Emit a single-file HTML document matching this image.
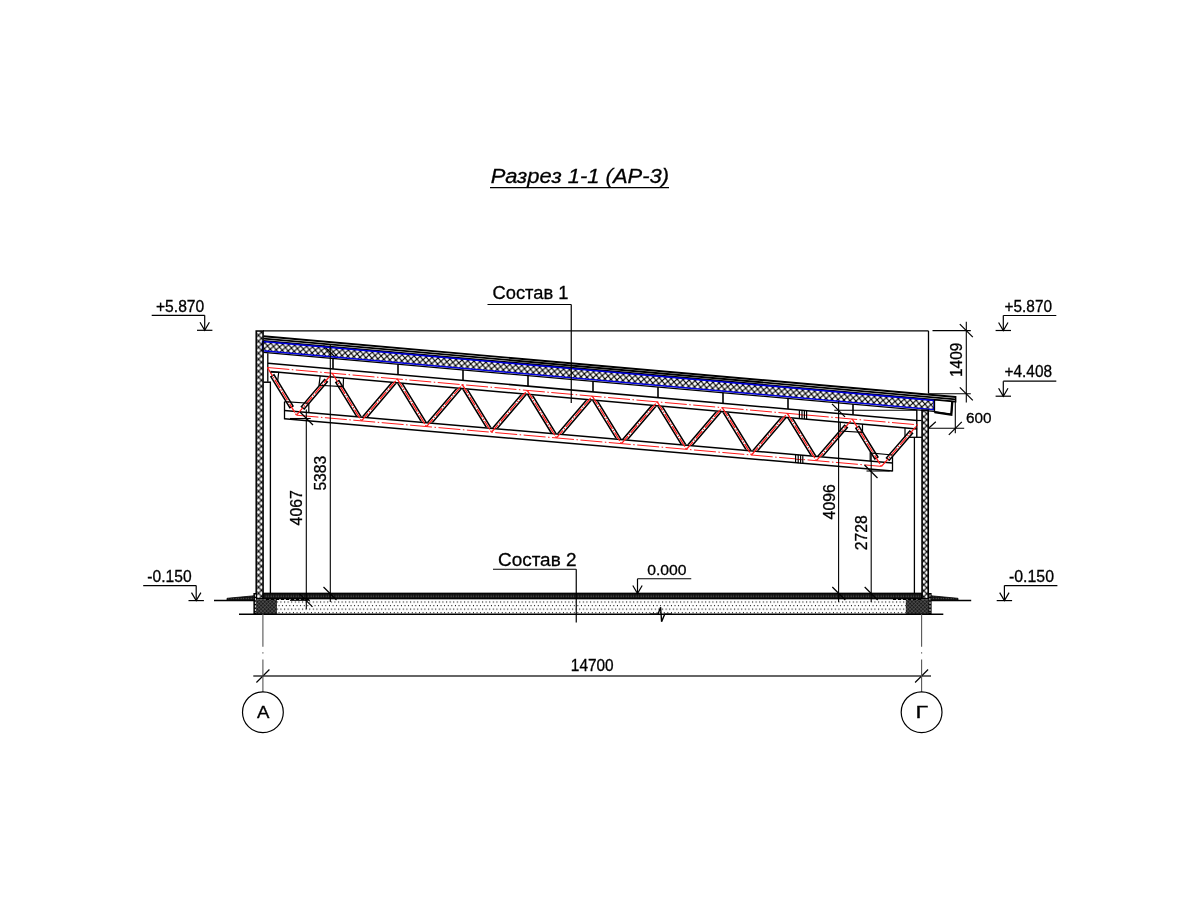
<!DOCTYPE html>
<html><head><meta charset="utf-8"><style>
html,body{margin:0;padding:0;background:#fff;}
svg{display:block;will-change:transform;}
text{font-family:"Liberation Sans", sans-serif;fill:#000;stroke:#000;stroke-width:0.3px;}
</style></head><body>
<svg width="1200" height="900" viewBox="0 0 1200 900">
<rect width="1200" height="900" fill="#fff"/>
<defs>
<pattern id="xh" patternUnits="userSpaceOnUse" width="6" height="6" x="255.5" y="332.3"><path d="M-1 -1 L7 7 M7 -1 L-1 7" stroke="#000" stroke-width="1.2"/></pattern>
<pattern id="xh2" patternUnits="userSpaceOnUse" width="6" height="6" x="920.8" y="407.7"><path d="M-1 -1 L7 7 M7 -1 L-1 7" stroke="#000" stroke-width="1.2"/></pattern>
<pattern id="xhr" patternUnits="userSpaceOnUse" width="6" height="6" patternTransform="rotate(5.06)"><path d="M-1 -1 L7 7 M7 -1 L-1 7" stroke="#000" stroke-width="1.15"/></pattern>
<pattern id="dots" patternUnits="userSpaceOnUse" width="3.6" height="7.1" x="2.3" y="600.6"><rect x="0.85" y="0.85" width="1.15" height="1.15" fill="#111"/><rect x="2.65" y="4.4" width="1.15" height="1.15" fill="#111"/></pattern>
<pattern id="dk" patternUnits="userSpaceOnUse" width="2.5" height="2.5"><rect width="2.5" height="2.5" fill="#111"/><rect x="0.6" y="0.6" width="1" height="1" fill="#777"/></pattern>
<pattern id="fd" patternUnits="userSpaceOnUse" width="2.6" height="2.6" patternTransform="rotate(45)"><rect width="2.6" height="2.6" fill="#1e1e1e"/><rect width="0.55" height="2.6" fill="#5a5a5a"/><rect width="2.6" height="0.55" fill="#5a5a5a"/></pattern>
</defs>
<line x1="323.5" y1="345.5" x2="336.5" y2="358.5" stroke="#000" stroke-width="1.2" />
<path d="M263.5 336.24 L955.7 397.02" fill="none" stroke="#000" stroke-width="1.9" />
<path d="M263.5 338.54 L955.7 399.32" fill="none" stroke="#000" stroke-width="1.8" />
<path d="M263.5 340.84 L955.7 401.62" fill="none" stroke="#000" stroke-width="1.9" />
<path d="M955.7 396.02 L955.7 402.42" fill="none" stroke="#000" stroke-width="1.4" />
<path d="M263.5 341.54 L934 400.41 L934 409.71 L263.5 350.84 Z" fill="url(#xhr)" stroke="none" stroke-width="1.2" />
<path d="M262.5 341.46 L934 400.41 L934 409.71 L262.5 350.76 Z" fill="none" stroke="#0000e0" stroke-width="1.5" />
<line x1="263.5" y1="352.44" x2="934" y2="411.31" stroke="#000" stroke-width="1.2" />
<path d="M934.5 399.96 L952.5 401.54 L951.3 414.3 L934.5 412 Z" fill="#fff" stroke="#000" stroke-width="1.3" />
<path d="M952.3 401.24 L951.3 414.6 L934.5 412.2" fill="none" stroke="#000" stroke-width="2.3" />
<rect x="256.2" y="331" width="6.9" height="267.7" fill="url(#xh)" stroke="#000" stroke-width="1.5"/>
<rect x="922.05" y="410.2" width="6.2" height="188.5" fill="url(#xh2)" stroke="#000" stroke-width="1.6"/>
<line x1="267.8" y1="353.22" x2="267.8" y2="381.8" stroke="#000" stroke-width="1.3" />
<line x1="263.5" y1="382.2" x2="271" y2="382.2" stroke="#000" stroke-width="1.5" />
<line x1="270.4" y1="382" x2="270.4" y2="593" stroke="#000" stroke-width="1.3" />
<line x1="916.8" y1="410" x2="916.8" y2="437.3" stroke="#000" stroke-width="1.4" />
<line x1="916.8" y1="420.5" x2="921.5" y2="420.5" stroke="#000" stroke-width="1.2" />
<line x1="905" y1="437.3" x2="922" y2="437.3" stroke="#000" stroke-width="1.3" />
<line x1="914.4" y1="437.3" x2="914.4" y2="593" stroke="#000" stroke-width="1.3" />
<line x1="268" y1="363.2" x2="917.2" y2="420.48" stroke="#000" stroke-width="1.5" />
<line x1="270.4" y1="371.54" x2="917.2" y2="428.92" stroke="#000" stroke-width="1.5" />
<line x1="284.5" y1="410.42" x2="892.5" y2="463.08" stroke="#000" stroke-width="1.5" />
<line x1="284.5" y1="418.83" x2="892.5" y2="470.91" stroke="#000" stroke-width="1.5" />
<line x1="284.5" y1="401.7" x2="284.5" y2="419.33" stroke="#000" stroke-width="1.3" />
<line x1="892.5" y1="455" x2="892.5" y2="471.41" stroke="#000" stroke-width="1.3" />
<line x1="267.4" y1="367.5" x2="917.5" y2="424.8" stroke="#ff1a1a" stroke-width="1.0" stroke-dasharray="22 2.5 1.5 2.5"/>
<line x1="296.5" y1="415.2" x2="881.5" y2="466.39" stroke="#ff1a1a" stroke-width="1.0" stroke-dasharray="22 2.5 1.5 2.5"/>
<clipPath id="tc"><path d="M260 371.21 L930 430.66 L930 465.73 L260 407.7 Z"/></clipPath>
<g clip-path="url(#tc)"><path d="M269.87 376.54 L289.59 408.87 L294.03 406.16 L274.31 373.83 Z M304.32 410.04 L328.44 381.76 L324.48 378.38 L300.36 406.66 Z M334.78 382.25 L362.42 427.36 L366.85 424.65 L339.22 379.54 Z M359.58 427.14 L403.17 376.07 L399.22 372.7 L355.63 423.76 Z M391.95 375.19 L427.42 433.05 L431.85 430.33 L396.38 372.48 Z M424.58 432.83 L468.17 381.81 L464.22 378.43 L420.63 429.45 Z M456.95 380.92 L492.42 438.74 L496.85 436.02 L461.38 378.2 Z M489.58 438.51 L533.18 387.54 L529.22 384.16 L485.62 435.13 Z M521.94 386.66 L557.42 444.42 L561.86 441.7 L526.38 383.93 Z M554.57 444.2 L598.18 393.27 L594.23 389.89 L550.62 440.82 Z M586.94 392.39 L622.43 450.11 L626.86 447.39 L591.37 389.66 Z M619.57 449.89 L663.18 399 L659.23 395.62 L615.62 446.5 Z M651.94 398.12 L687.43 455.8 L691.86 453.07 L656.37 395.39 Z M684.57 455.57 L728.18 404.73 L724.23 401.35 L680.62 452.19 Z M716.94 403.85 L752.43 461.48 L756.86 458.76 L721.37 401.12 Z M749.56 461.26 L793.18 410.47 L789.24 407.08 L745.62 457.87 Z M781.94 409.58 L817.43 467.17 L821.86 464.44 L786.37 406.85 Z M814.56 466.94 L848.4 427.57 L844.46 424.18 L810.62 463.56 Z M854.81 428.08 L874.56 460.09 L878.99 457.36 L859.24 425.35 Z M889.36 461.28 L913.58 433.31 L909.64 429.9 L885.42 457.88 Z" fill="#000"/><path d="M271.92 376.93 L290.19 406.87 L291.98 405.77 L273.71 375.83 Z M304.05 407.97 L326.35 381.81 L324.75 380.45 L302.45 406.61 Z M336.84 382.64 L363.74 426.55 L365.53 425.46 L338.63 381.54 Z M358.4 426.13 L401.99 375.07 L400.4 373.7 L356.81 424.77 Z M393.27 374.38 L428.74 432.24 L430.53 431.14 L395.06 373.29 Z M423.4 431.82 L467 380.8 L465.4 379.43 L421.8 430.45 Z M458.27 380.11 L493.74 437.93 L495.53 436.83 L460.06 379.02 Z M488.4 437.5 L532 386.53 L530.4 385.17 L486.8 436.14 Z M523.27 385.84 L558.75 443.61 L560.53 442.51 L525.05 384.75 Z M553.4 443.19 L597 392.26 L595.4 390.9 L551.8 441.82 Z M588.26 391.58 L623.75 449.3 L625.54 448.2 L590.05 390.48 Z M618.39 448.88 L662 397.99 L660.41 396.63 L616.8 447.51 Z M653.26 397.31 L688.75 454.99 L690.54 453.88 L655.05 396.21 Z M683.39 454.56 L727 403.72 L725.41 402.36 L681.8 453.2 Z M718.26 403.04 L753.75 460.67 L755.54 459.57 L720.05 401.94 Z M748.39 460.25 L792.01 409.46 L790.41 408.09 L746.79 458.88 Z M783.26 408.77 L818.75 466.36 L820.54 465.26 L785.05 407.67 Z M813.39 465.93 L846.32 427.62 L844.72 426.26 L811.79 464.57 Z M856.87 428.46 L875.15 458.09 L876.93 456.98 L858.65 427.35 Z M889.1 459.21 L911.49 433.35 L909.9 431.98 L887.51 457.84 Z" fill="#fff"/></g>
<line x1="267.4" y1="367.5" x2="296.5" y2="415.2" stroke="#ff1a1a" stroke-width="1.3" stroke-dasharray="10 1.4 1.4 1.4"/>
<line x1="296.5" y1="415.2" x2="332.3" y2="373.22" stroke="#ff1a1a" stroke-width="1.3" stroke-dasharray="10 1.4 1.4 1.4"/>
<line x1="332.3" y1="373.22" x2="361.5" y2="420.89" stroke="#ff1a1a" stroke-width="1.3" stroke-dasharray="10 1.4 1.4 1.4"/>
<line x1="361.5" y1="420.89" x2="397.3" y2="378.95" stroke="#ff1a1a" stroke-width="1.3" stroke-dasharray="10 1.4 1.4 1.4"/>
<line x1="397.3" y1="378.95" x2="426.5" y2="426.57" stroke="#ff1a1a" stroke-width="1.3" stroke-dasharray="10 1.4 1.4 1.4"/>
<line x1="426.5" y1="426.57" x2="462.3" y2="384.68" stroke="#ff1a1a" stroke-width="1.3" stroke-dasharray="10 1.4 1.4 1.4"/>
<line x1="462.3" y1="384.68" x2="491.5" y2="432.26" stroke="#ff1a1a" stroke-width="1.3" stroke-dasharray="10 1.4 1.4 1.4"/>
<line x1="491.5" y1="432.26" x2="527.3" y2="390.41" stroke="#ff1a1a" stroke-width="1.3" stroke-dasharray="10 1.4 1.4 1.4"/>
<line x1="527.3" y1="390.41" x2="556.5" y2="437.95" stroke="#ff1a1a" stroke-width="1.3" stroke-dasharray="10 1.4 1.4 1.4"/>
<line x1="556.5" y1="437.95" x2="592.3" y2="396.14" stroke="#ff1a1a" stroke-width="1.3" stroke-dasharray="10 1.4 1.4 1.4"/>
<line x1="592.3" y1="396.14" x2="621.5" y2="443.64" stroke="#ff1a1a" stroke-width="1.3" stroke-dasharray="10 1.4 1.4 1.4"/>
<line x1="621.5" y1="443.64" x2="657.3" y2="401.87" stroke="#ff1a1a" stroke-width="1.3" stroke-dasharray="10 1.4 1.4 1.4"/>
<line x1="657.3" y1="401.87" x2="686.5" y2="449.32" stroke="#ff1a1a" stroke-width="1.3" stroke-dasharray="10 1.4 1.4 1.4"/>
<line x1="686.5" y1="449.32" x2="722.3" y2="407.6" stroke="#ff1a1a" stroke-width="1.3" stroke-dasharray="10 1.4 1.4 1.4"/>
<line x1="722.3" y1="407.6" x2="751.5" y2="455.01" stroke="#ff1a1a" stroke-width="1.3" stroke-dasharray="10 1.4 1.4 1.4"/>
<line x1="751.5" y1="455.01" x2="787.3" y2="413.32" stroke="#ff1a1a" stroke-width="1.3" stroke-dasharray="10 1.4 1.4 1.4"/>
<line x1="787.3" y1="413.32" x2="816.5" y2="460.7" stroke="#ff1a1a" stroke-width="1.3" stroke-dasharray="10 1.4 1.4 1.4"/>
<line x1="816.5" y1="460.7" x2="852.3" y2="419.05" stroke="#ff1a1a" stroke-width="1.3" stroke-dasharray="10 1.4 1.4 1.4"/>
<line x1="852.3" y1="419.05" x2="881.5" y2="466.39" stroke="#ff1a1a" stroke-width="1.3" stroke-dasharray="10 1.4 1.4 1.4"/>
<line x1="881.5" y1="466.39" x2="917.5" y2="424.8" stroke="#ff1a1a" stroke-width="1.3" stroke-dasharray="10 1.4 1.4 1.4"/>
<path d="M270.4 372.27 L278.7 372.27 L277.6 381.6" fill="none" stroke="#000" stroke-width="1.2" />
<path d="M284.5 401.7 L308.8 403.2 L308.8 412.53" fill="none" stroke="#000" stroke-width="1.2" />
<path d="M320.2 375.95 L319 385.3 L343.2 386.5 L343.5 378.02" fill="none" stroke="#000" stroke-width="1.2" />
<path d="M840.2 422.09 L840.2 431 L862.5 432.3 L862.5 424.07" fill="none" stroke="#000" stroke-width="1.2" />
<path d="M870.2 461.15 L870.2 453 L892.5 455" fill="none" stroke="#000" stroke-width="1.2" />
<path d="M905 427.84 L905 437.3" fill="none" stroke="#000" stroke-width="1.2" />
<line x1="333" y1="358.45" x2="333" y2="368.93" stroke="#000" stroke-width="1.6" />
<line x1="398" y1="364.15" x2="398" y2="374.67" stroke="#000" stroke-width="1.6" />
<line x1="463" y1="369.86" x2="463" y2="380.4" stroke="#000" stroke-width="1.6" />
<line x1="528" y1="375.57" x2="528" y2="386.14" stroke="#000" stroke-width="1.6" />
<line x1="593" y1="381.27" x2="593" y2="391.87" stroke="#000" stroke-width="1.6" />
<line x1="658" y1="386.98" x2="658" y2="397.61" stroke="#000" stroke-width="1.6" />
<line x1="723" y1="392.69" x2="723" y2="403.34" stroke="#000" stroke-width="1.6" />
<line x1="788" y1="398.39" x2="788" y2="409.08" stroke="#000" stroke-width="1.6" />
<line x1="853" y1="404.1" x2="853" y2="414.81" stroke="#000" stroke-width="1.6" />
<line x1="834.3" y1="410.3" x2="917" y2="410.3" stroke="#000" stroke-width="1.1" />
<path d="M799.4 411.51 L806.6 412.11 L806.6 417.91 L799.4 417.31 Z" fill="#fff" stroke="none" stroke-width="1.2" />
<line x1="799.4" y1="414.71" x2="806.6" y2="415.31" stroke="#ff1a1a" stroke-width="1.0" />
<line x1="799.4" y1="409.99" x2="799.4" y2="418.59" stroke="#000" stroke-width="1.2" />
<line x1="802" y1="410.22" x2="802" y2="418.82" stroke="#000" stroke-width="1.2" />
<line x1="804.4" y1="410.43" x2="804.4" y2="419.03" stroke="#000" stroke-width="1.2" />
<line x1="806.6" y1="410.62" x2="806.6" y2="419.22" stroke="#000" stroke-width="1.2" />
<path d="M795.6 455.99 L802.8 456.59 L802.8 462.39 L795.6 461.79 Z" fill="#fff" stroke="none" stroke-width="1.2" />
<line x1="795.6" y1="459.19" x2="802.8" y2="459.79" stroke="#ff1a1a" stroke-width="1.0" />
<line x1="795.6" y1="454.47" x2="795.6" y2="463.07" stroke="#000" stroke-width="1.2" />
<line x1="798.2" y1="454.7" x2="798.2" y2="463.3" stroke="#000" stroke-width="1.2" />
<line x1="800.6" y1="454.91" x2="800.6" y2="463.51" stroke="#000" stroke-width="1.2" />
<line x1="802.8" y1="455.1" x2="802.8" y2="463.7" stroke="#000" stroke-width="1.2" />
<rect x="263.2" y="593.3" width="658.5" height="5.4" fill="url(#dk)" stroke="#000" stroke-width="1.3"/>
<rect x="277" y="600.2" width="628.8" height="13.6" fill="url(#dots)"/>
<rect x="256.5" y="599.3" width="20.5" height="14.7" fill="url(#fd)"/>
<rect x="905.8" y="599.3" width="25" height="14.7" fill="url(#fd)"/>
<line x1="239" y1="614.2" x2="943.3" y2="614.2" stroke="#000" stroke-width="1.4" />
<line x1="266" y1="599.3" x2="310" y2="599.3" stroke="#000" stroke-width="1.2" stroke-dasharray="3 2"/>
<line x1="893" y1="599.3" x2="921" y2="599.3" stroke="#000" stroke-width="1.2" stroke-dasharray="3 2"/>
<rect x="253.4" y="593" width="3.2" height="21.2" fill="#000"/>
<rect x="928.6" y="593" width="3" height="21.2" fill="#000"/>
<line x1="255.4" y1="594.5" x2="255.4" y2="613" stroke="#fff" stroke-width="0.9" stroke-dasharray="2.2 1.4"/>
<line x1="930" y1="594.5" x2="930" y2="613" stroke="#fff" stroke-width="0.9" stroke-dasharray="2.2 1.4"/>
<line x1="214" y1="600.5" x2="254.4" y2="600.5" stroke="#000" stroke-width="1.3" />
<line x1="931" y1="600.5" x2="971.2" y2="600.5" stroke="#000" stroke-width="1.3" />
<path d="M227 598.3 L254 595.8 L254 600.5 L227 600.5 Z" fill="url(#dk)" stroke="#000" stroke-width="0.8" />
<path d="M958 598.3 L931 595.8 L931 600.5 L958 600.5 Z" fill="url(#dk)" stroke="#000" stroke-width="0.8" />
<line x1="263" y1="330.9" x2="928.5" y2="330.9" stroke="#000" stroke-width="1.3" />
<line x1="928.5" y1="330.9" x2="928.5" y2="393.5" stroke="#000" stroke-width="1.3" />
<line x1="932.5" y1="330.6" x2="970.8" y2="330.6" stroke="#000" stroke-width="1.1" />
<line x1="928.5" y1="393.8" x2="970.8" y2="393.8" stroke="#000" stroke-width="1.1" />
<line x1="966.3" y1="321.7" x2="966.3" y2="402.5" stroke="#000" stroke-width="1.1" />
<line x1="959.8" y1="324.1" x2="972.8" y2="337.1" stroke="#000" stroke-width="1.2" />
<line x1="959.8" y1="387.3" x2="972.8" y2="400.3" stroke="#000" stroke-width="1.2" />
<text transform="translate(961.7 375.8) rotate(-90) scale(0.9644 1)" x="-1.2" y="0" font-size="16">1409</text>
<line x1="955.3" y1="400.8" x2="955.3" y2="433.3" stroke="#000" stroke-width="1.1" />
<line x1="929" y1="428.3" x2="964.2" y2="428.3" stroke="#000" stroke-width="1.1" />
<line x1="948.8" y1="434.8" x2="961.8" y2="421.8" stroke="#000" stroke-width="1.2" />
<line x1="928.6" y1="428.2" x2="935.8" y2="421.8" stroke="#000" stroke-width="1.2" />
<text transform="translate(966.7 423.3) scale(0.9877 1)" x="-0.8" y="0" font-size="15.5">600</text>
<line x1="306.3" y1="409.5" x2="306.3" y2="609.3" stroke="#000" stroke-width="1.1" />
<line x1="330.3" y1="345" x2="330.3" y2="602" stroke="#000" stroke-width="1.1" />
<line x1="290" y1="418.5" x2="310.7" y2="418.5" stroke="#000" stroke-width="1.1" />
<line x1="290" y1="600.3" x2="310" y2="600.3" stroke="#000" stroke-width="1.1" />
<line x1="300" y1="412" x2="313" y2="425" stroke="#000" stroke-width="1.2" />
<line x1="299.5" y1="593.8" x2="312.5" y2="606.8" stroke="#000" stroke-width="1.2" />
<line x1="323.5" y1="587" x2="336.5" y2="600" stroke="#000" stroke-width="1.2" />
<text transform="translate(301.5 525) rotate(-90) scale(0.9884 1)" x="-0.4" y="0" font-size="16">4067</text>
<text transform="translate(325.8 490) rotate(-90) scale(0.9767 1)" x="-0.6" y="0" font-size="16">5383</text>
<line x1="838.6" y1="401.3" x2="838.6" y2="602" stroke="#000" stroke-width="1.1" />
<line x1="871.2" y1="454" x2="871.2" y2="602" stroke="#000" stroke-width="1.1" />
<line x1="866.5" y1="471" x2="889.7" y2="471" stroke="#000" stroke-width="1.1" />
<line x1="832" y1="403.8" x2="845" y2="416.8" stroke="#000" stroke-width="1.2" />
<line x1="864.5" y1="465" x2="877.5" y2="478" stroke="#000" stroke-width="1.2" />
<line x1="832.3" y1="587" x2="845.3" y2="600" stroke="#000" stroke-width="1.2" />
<line x1="864.7" y1="587" x2="877.7" y2="600" stroke="#000" stroke-width="1.2" />
<text transform="translate(834.5 519) rotate(-90) scale(0.9855 1)" x="-0.4" y="0" font-size="16">4096</text>
<text transform="translate(866.5 549.5) rotate(-90) scale(0.9824 1)" x="-0.8" y="0" font-size="16">2728</text>
<line x1="253.3" y1="676" x2="931" y2="676" stroke="#333" stroke-width="1.4" />
<line x1="256.4" y1="682.5" x2="269.4" y2="669.5" stroke="#000" stroke-width="1.2" />
<line x1="915.1" y1="682.5" x2="928.1" y2="669.5" stroke="#000" stroke-width="1.2" />
<text transform="translate(572 671.3) scale(0.9880 1)" x="-1.2" y="0" font-size="15.6">14700</text>
<line x1="262.9" y1="614" x2="262.9" y2="646.7" stroke="#555" stroke-width="1.1" />
<line x1="262.9" y1="652.2" x2="262.9" y2="653.4" stroke="#555" stroke-width="1.1" />
<line x1="262.9" y1="659.5" x2="262.9" y2="692" stroke="#555" stroke-width="1.1" />
<circle cx="262.9" cy="712.2" r="20.4" fill="none" stroke="#000" stroke-width="1.2"/>
<text transform="translate(257.1 717.8) scale(1.0973 1)" x="-0" y="0" font-size="17">А</text>
<line x1="921.6" y1="614" x2="921.6" y2="646.7" stroke="#555" stroke-width="1.1" />
<line x1="921.6" y1="652.2" x2="921.6" y2="653.4" stroke="#555" stroke-width="1.1" />
<line x1="921.6" y1="659.5" x2="921.6" y2="692" stroke="#555" stroke-width="1.1" />
<circle cx="921.6" cy="712.2" r="20.4" fill="none" stroke="#000" stroke-width="1.2"/>
<text transform="translate(917.3 717.8) scale(1.3600 1)" x="-1.4" y="0" font-size="17">Г</text>
<line x1="151.7" y1="315.3" x2="204.7" y2="315.3" stroke="#000" stroke-width="1.2" />
<line x1="204.7" y1="315.3" x2="204.7" y2="330.3" stroke="#000" stroke-width="1.2" />
<path d="M200 322.3 L204.7 330.3 L209.4 322.3" fill="none" stroke="#000" stroke-width="1.2" />
<line x1="197" y1="330.3" x2="212.4" y2="330.3" stroke="#000" stroke-width="1.2" />
<text transform="translate(156.7 311.7) scale(0.9495 1)" x="-0.8" y="0" font-size="16.5">+5.870</text>
<line x1="143.2" y1="585.6" x2="196.2" y2="585.6" stroke="#000" stroke-width="1.2" />
<line x1="196.2" y1="585.6" x2="196.2" y2="600.6" stroke="#000" stroke-width="1.2" />
<path d="M191.5 592.6 L196.2 600.6 L200.9 592.6" fill="none" stroke="#000" stroke-width="1.2" />
<line x1="188.5" y1="600.6" x2="203.9" y2="600.6" stroke="#000" stroke-width="1.2" />
<text transform="translate(148 581.9) scale(0.9471 1)" x="-0.7" y="0" font-size="16.5">-0.150</text>
<line x1="1003.3" y1="315.5" x2="1056.3" y2="315.5" stroke="#000" stroke-width="1.2" />
<line x1="1003.3" y1="315.5" x2="1003.3" y2="330.5" stroke="#000" stroke-width="1.2" />
<path d="M998.6 322.5 L1003.3 330.5 L1008 322.5" fill="none" stroke="#000" stroke-width="1.2" />
<line x1="995.6" y1="330.5" x2="1011" y2="330.5" stroke="#000" stroke-width="1.2" />
<text transform="translate(1005.3 311.5) scale(0.9333 1)" x="-0.8" y="0" font-size="16.5">+5.870</text>
<line x1="1003.3" y1="381.2" x2="1056.3" y2="381.2" stroke="#000" stroke-width="1.2" />
<line x1="1003.3" y1="381.2" x2="1003.3" y2="396.2" stroke="#000" stroke-width="1.2" />
<path d="M998.6 388.2 L1003.3 396.2 L1008 388.2" fill="none" stroke="#000" stroke-width="1.2" />
<line x1="995.6" y1="396.2" x2="1011" y2="396.2" stroke="#000" stroke-width="1.2" />
<text transform="translate(1005.3 376.8) scale(0.9333 1)" x="-0.8" y="0" font-size="16.5">+4.408</text>
<line x1="1004.4" y1="585.6" x2="1057.4" y2="585.6" stroke="#000" stroke-width="1.2" />
<line x1="1004.4" y1="585.6" x2="1004.4" y2="600.6" stroke="#000" stroke-width="1.2" />
<path d="M999.7 592.6 L1004.4 600.6 L1009.1 592.6" fill="none" stroke="#000" stroke-width="1.2" />
<line x1="996.7" y1="600.6" x2="1012.1" y2="600.6" stroke="#000" stroke-width="1.2" />
<text transform="translate(1009.6 581.9) scale(0.9626 1)" x="-0.7" y="0" font-size="16.5">-0.150</text>
<line x1="637.5" y1="578.75" x2="691.25" y2="578.75" stroke="#000" stroke-width="1.2" />
<line x1="637.5" y1="578.75" x2="637.5" y2="593.5" stroke="#000" stroke-width="1.2" />
<path d="M632.8 585.5 L637.5 593.5 L642.2 585.5" fill="none" stroke="#000" stroke-width="1.2" />
<text transform="translate(647.8 574.7) scale(1.0214 1)" x="-0.6" y="0" font-size="15.4">0.000</text>
<text transform="translate(493.5 298.8) scale(0.9635 1)" x="-1" y="0" font-size="19">Состав 1</text>
<line x1="487.5" y1="304.5" x2="571.25" y2="304.5" stroke="#000" stroke-width="1.2" />
<line x1="571.25" y1="304.5" x2="571.25" y2="403" stroke="#000" stroke-width="1.2" />
<text transform="translate(499 565.5) scale(0.9961 1)" x="-1" y="0" font-size="19">Состав 2</text>
<line x1="493" y1="569.25" x2="576.25" y2="569.25" stroke="#000" stroke-width="1.2" />
<line x1="576.25" y1="569.25" x2="576.25" y2="622.5" stroke="#000" stroke-width="1.2" />
<path d="M650 614.2 L657.9 614.2 L660.6 607.3 L661.6 621.8 L664.7 614.2 L672 614.2" fill="none" stroke="#000" stroke-width="1.4" />
<text transform="translate(491.25 182.5) scale(1.0465 1)" x="-0.6" y="0" font-size="21" font-style="italic">Разрез 1-1 (АР-3)</text>
<line x1="490" y1="187.6" x2="669" y2="187.6" stroke="#000" stroke-width="1.4" />
</svg></body></html>
